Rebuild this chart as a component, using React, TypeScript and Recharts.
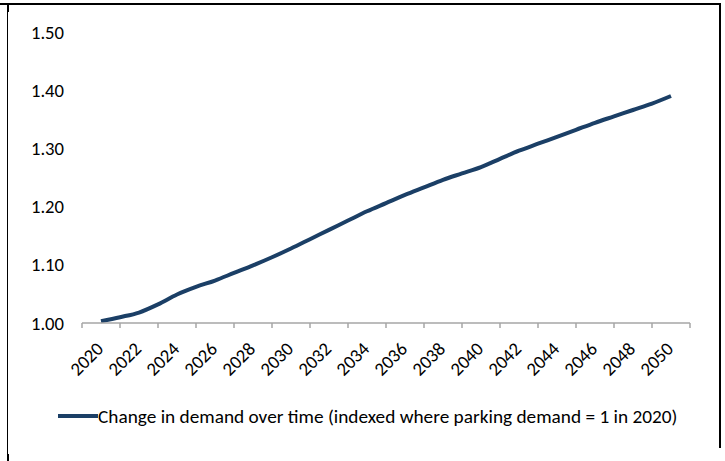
import React from "react";
import { LineChart, Line, XAxis, YAxis } from "recharts";

// Parking demand index, 2020 = 1
const YEARS = [
  2020, 2021, 2022, 2023, 2024, 2025, 2026, 2027, 2028, 2029, 2030, 2031, 2032,
  2033, 2034, 2035, 2036, 2037, 2038, 2039, 2040, 2041, 2042, 2043, 2044, 2045,
  2046, 2047, 2048, 2049, 2050,
];
const DEMAND = [
  1.003, 1.01, 1.018, 1.032, 1.049, 1.062, 1.073, 1.086, 1.099, 1.113, 1.128,
  1.144, 1.16, 1.176, 1.192, 1.206, 1.22, 1.233, 1.246, 1.257, 1.268, 1.282,
  1.296, 1.308, 1.32, 1.332, 1.344, 1.355, 1.366, 1.377, 1.39,
];
const Y_TICKS = [1.0, 1.1, 1.2, 1.3, 1.4, 1.5];
const LABEL_YEARS = [
  2020, 2022, 2024, 2026, 2028, 2030, 2032, 2034, 2036, 2038, 2040, 2042, 2044,
  2046, 2048, 2050,
];
// tick marks sit between the labelled years
const MARK_YEARS = [
  2019, 2021, 2023, 2025, 2027, 2029, 2031, 2033, 2035, 2037, 2039, 2041, 2043,
  2045, 2047, 2049, 2051,
];
const SERIES_NAME =
  "Change in demand over time (indexed where parking demand = 1 in 2020)";

const LINE_COLOR = "#1B3F66";
const AXIS_COLOR = "#A6A6A6";
const FONT = "Carlito, Calibri, 'Open Sans', sans-serif";

const data = YEARS.map((year, i) => ({ year, demand: DEMAND[i] }));

const NoLabel = () => <g />;

const YearTick = ({ x, y, payload }: any) => {
  const ax = x + 3.5;
  const ay = y + 22;
  return (
    <text
      x={ax}
      y={ay}
      transform={`rotate(-45, ${ax}, ${ay})`}
      textAnchor="end"
      fontSize={18.67}
      fontFamily={FONT}
      fill="#000"
    >
      {payload.value}
    </text>
  );
};

export default function App() {
  return (
    <div
      style={{
        position: "absolute",
        left: 0,
        top: 0,
        width: 725,
        height: 461,
        background: "#fff",
        fontFamily: FONT,
      }}
    >
      {/* frame */}
      <div style={{ position: "absolute", left: 0, top: 3, width: 721, height: 2, background: "#000" }} />
      <div style={{ position: "absolute", left: 7, top: 3, width: 1, height: 458, background: "#000" }} />
      <div style={{ position: "absolute", left: 7, top: 4, width: 2, height: 8, background: "#000" }} />
      <div style={{ position: "absolute", left: 7, top: 454, width: 2, height: 7, background: "#000" }} />
      <div style={{ position: "absolute", left: 719, top: 3, width: 2, height: 445, background: "#000" }} />

      <LineChart
        width={725}
        height={461}
        data={data}
        margin={{ top: 32, right: 35, bottom: 73, left: 0 }}
      >
        <XAxis
          xAxisId={0}
          dataKey="year"
          type="number"
          domain={[2019, 2051]}
          ticks={MARK_YEARS}
          tick={<NoLabel />}
          height={5}
          interval={0}
          axisLine={{ stroke: AXIS_COLOR, strokeWidth: 1.5 }}
          tickLine={{ stroke: AXIS_COLOR, strokeWidth: 1.5 }}
          tickSize={5}
        />
        <XAxis
          xAxisId={1}
          dataKey="year"
          type="number"
          domain={[2019, 2051]}
          ticks={LABEL_YEARS}
          axisLine={false}
          tickLine={false}
          tickSize={0}
          tickMargin={0}
          tick={<YearTick />}
          height={60}
          interval={0}
        />
        <YAxis
          domain={[1, 1.5]}
          ticks={Y_TICKS}
          tickFormatter={(v: number) => v.toFixed(2)}
          axisLine={false}
          tickLine={false}
          width={82}
          tickMargin={12}
          tick={{ fontSize: 18.67, fill: "#000", fontFamily: FONT }}
        />
        <Line
          xAxisId={0}
          dataKey="demand"
          type="monotone"
          stroke={LINE_COLOR}
          strokeWidth={4}
          dot={false}
          isAnimationActive={false}
        />
      </LineChart>

      {/* Legend */}
      <div
        style={{
          position: "absolute",
          left: 58,
          top: 404,
          height: 24,
          display: "flex",
          alignItems: "center",
          fontSize: 19.3,
          color: "#000",
          whiteSpace: "nowrap",
        }}
      >
        <div style={{ width: 40, height: 4, background: LINE_COLOR }} />
        <span>{SERIES_NAME}</span>
      </div>
    </div>
  );
}
